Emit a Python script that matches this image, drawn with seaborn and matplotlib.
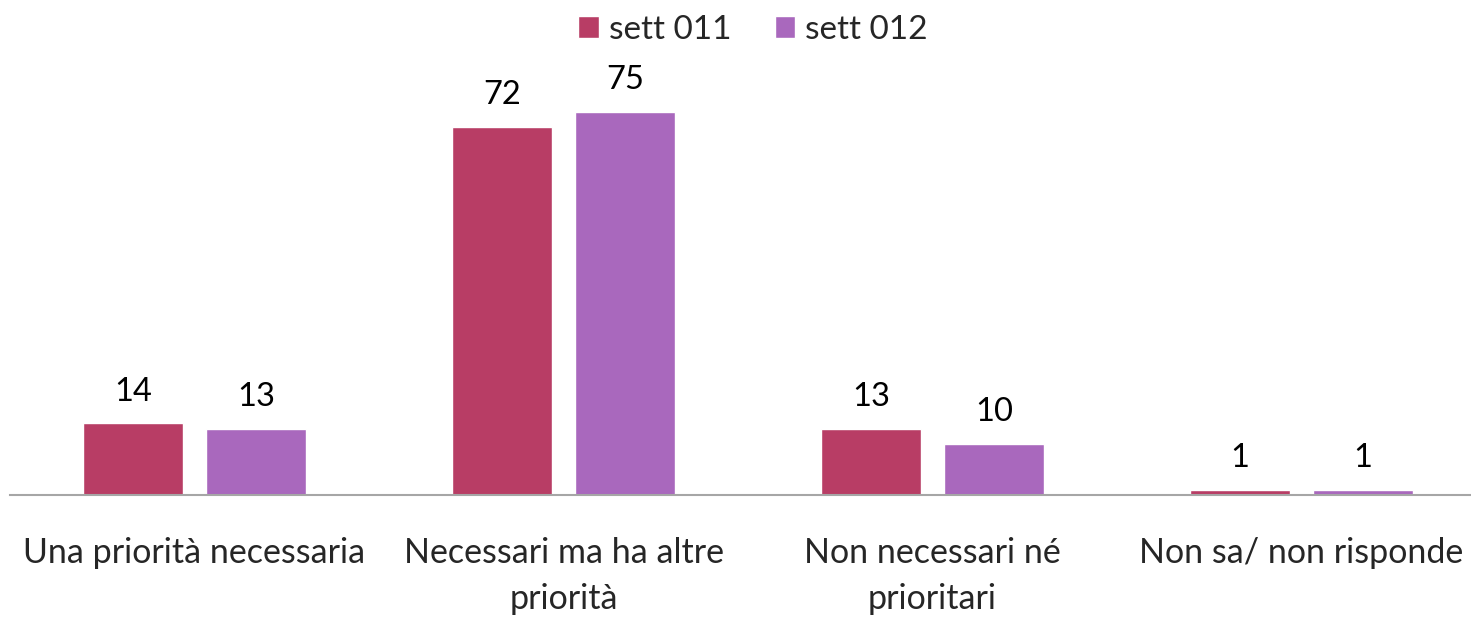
import pandas as pd
import numpy as np
import matplotlib.pyplot as plt
import seaborn as sns

categories = ["Una priorità necessaria", "Necessari ma ha altre\npriorità",
              "Non necessari né\nprioritari", "Non sa/ non risponde"]
series = ["sett 011", "sett 012"]
sett_011 = [14, 72, 13, 1]
sett_012 = [13, 75, 10, 1]
colors = ["#B83D65", "#A968BD"]

df = pd.DataFrame({
    "categoria": categories * 2,
    "serie": [series[0]] * 4 + [series[1]] * 4,
    "valore": sett_011 + sett_012,
})

sns.set_style("white")
plt.rcParams['font.family'] = ['Lato', 'DejaVu Sans']

fig = plt.figure(figsize=(14.71, 6.17), dpi=100)
ax = fig.add_axes([10 / 1471, 122 / 617, 1476 / 1471, 409 / 617])

sns.barplot(data=df, x="categoria", y="valore", hue="serie", order=categories,
            hue_order=series, palette=colors, width=0.667, gap=0.195,
            saturation=1, ax=ax, legend=True)

for cont in ax.containers:
    ax.bar_label(cont, padding=12, fontsize=23.5, color="#000000")

ax.set_xlim(-0.5, 3.5)
ax.set_ylim(0, 80)
ax.set_xlabel("")
ax.set_ylabel("")
ax.set_yticks([])
ax.tick_params(axis="x", length=0, pad=30, labelsize=24.5)
for lbl in ax.get_xticklabels():
    lbl.set_linespacing(1.55)
for s in ["top", "right", "left"]:
    ax.spines[s].set_visible(False)
ax.spines["bottom"].set_color("#A6A6A6")
ax.spines["bottom"].set_linewidth(1.5)

handles, labels = ax.get_legend_handles_labels()
ax.get_legend().remove()
fig.legend(handles, labels, loc="upper center", bbox_to_anchor=(0.512, 1.025),
           ncol=2, frameon=False, fontsize=24, handlelength=0.62, handleheight=0.62,
           handletextpad=0.3, columnspacing=1.3)

fig.savefig("out.png", dpi=100)
